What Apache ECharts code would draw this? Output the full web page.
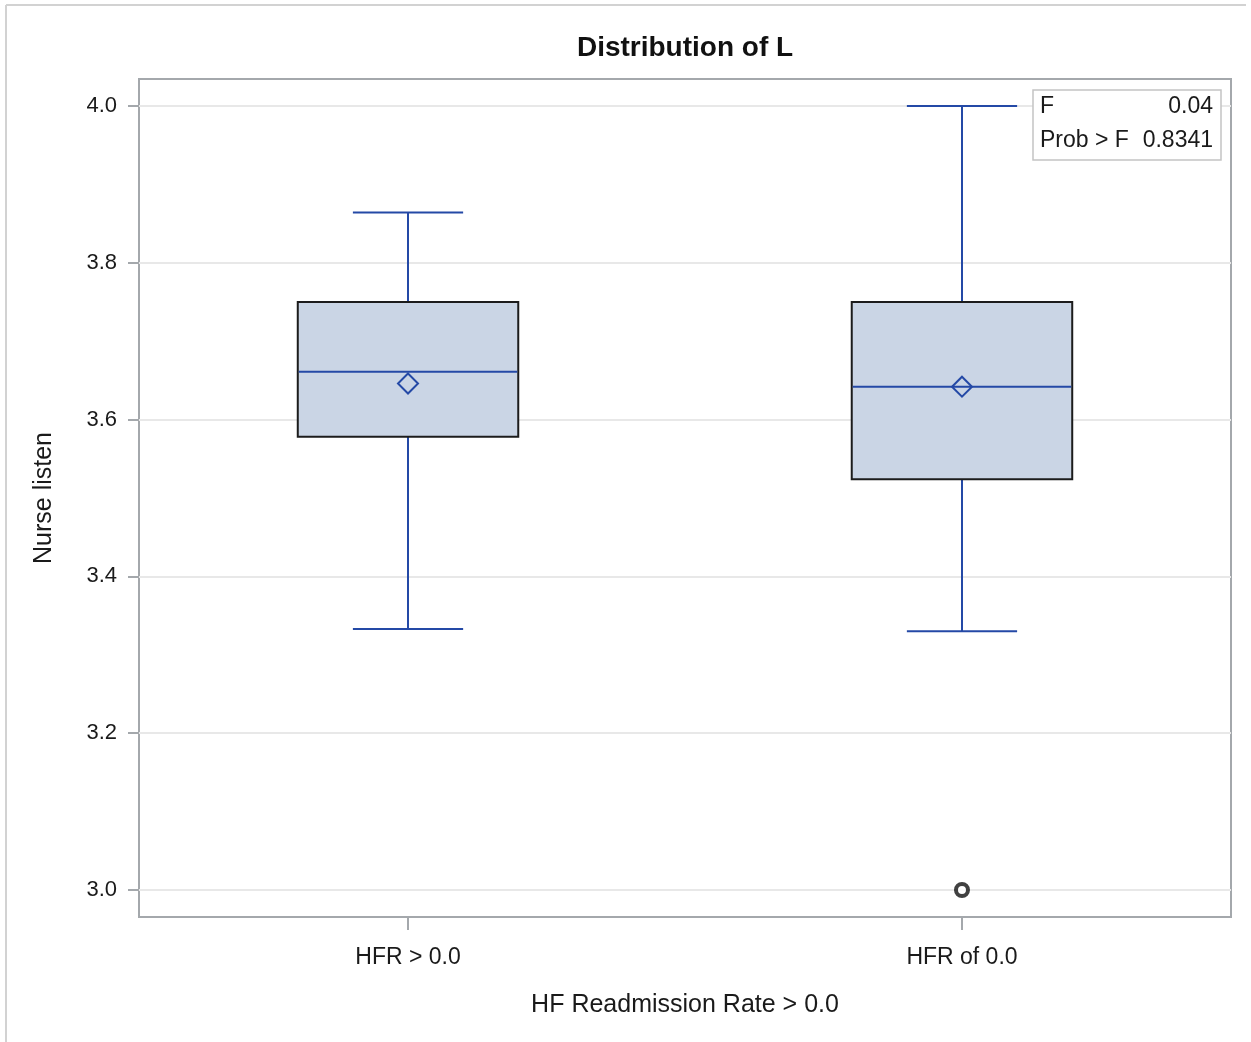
<!DOCTYPE html>
<html>
<head>
<meta charset="utf-8">
<title>Distribution of L</title>
<script src="https://cdn.jsdelivr.net/npm/echarts@6/dist/echarts.min.js"></script>
<style>
  html, body { margin: 0; padding: 0; background: #ffffff; }
  #chart { width: 1251px; height: 1042px; }
</style>
</head>
<body>
<div id="chart"></div>
<script>
// Box-plot summary for each readmission group
const categories = ['HFR > 0.0', 'HFR of 0.0'];
const whiskerLow = [3.333, 3.330];
const q1 = [3.578, 3.524];
const median = [3.661, 3.642];
const q3 = [3.750, 3.750];
const whiskerHigh = [3.864, 4.000];
const means = [3.646, 3.642];
// Outliers as [category index, value]
const outliers = [[1, 3.0]];

// Y tick values
const yTicks = [3.0, 3.2, 3.4, 3.6, 3.8, 4.0];

// ANOVA inset
const statLabels = ['F', 'Prob > F'];
const statValues = ['0.04', '0.8341'];

const FONT = "'Liberation Sans', Arial, sans-serif";
const BLUE = '#2449a6';
const FRAME = '#a4a8ac';

const boxData = categories.map((c, i) => [i, whiskerLow[i], q1[i], median[i], q3[i], whiskerHigh[i], means[i]]);

const chart = echarts.init(document.getElementById('chart'), null, { renderer: 'canvas' });

function renderBox(params, api) {
  const x = api.value(0);
  const pLow = api.coord([x, api.value(1)]);
  const pQ1 = api.coord([x, api.value(2)]);
  const pMed = api.coord([x, api.value(3)]);
  const pQ3 = api.coord([x, api.value(4)]);
  const pHigh = api.coord([x, api.value(5)]);
  const pMean = api.coord([x, api.value(6)]);
  const boxW = api.size([0.398, 0])[0];
  const capW = boxW / 2;
  const cx = pMed[0];
  const lineStyle = { stroke: BLUE, lineWidth: 2, fill: null };
  const d = 10;
  return {
    type: 'group',
    children: [
      { type: 'line', shape: { x1: cx, y1: pLow[1], x2: cx, y2: pQ1[1] }, style: lineStyle },
      { type: 'line', shape: { x1: cx, y1: pQ3[1], x2: cx, y2: pHigh[1] }, style: lineStyle },
      { type: 'line', shape: { x1: cx - capW / 2, y1: pLow[1], x2: cx + capW / 2, y2: pLow[1] }, style: lineStyle },
      { type: 'line', shape: { x1: cx - capW / 2, y1: pHigh[1], x2: cx + capW / 2, y2: pHigh[1] }, style: lineStyle },
      { type: 'rect', shape: { x: cx - boxW / 2, y: pQ3[1], width: boxW, height: pQ1[1] - pQ3[1] },
        style: { fill: '#cad5e5', stroke: '#1c1c1c', lineWidth: 2 } },
      { type: 'line', shape: { x1: cx - boxW / 2 + 1, y1: pMed[1], x2: cx + boxW / 2 - 1, y2: pMed[1] }, style: lineStyle },
      { type: 'polygon', shape: { points: [[cx, pMean[1] - d], [cx + d, pMean[1]], [cx, pMean[1] + d], [cx - d, pMean[1]]] },
        style: { fill: null, stroke: BLUE, lineWidth: 2 } }
    ]
  };
}

const option = {
  backgroundColor: '#ffffff',
  animation: false,
  textStyle: { fontFamily: FONT },
  grid: {
    left: 139, right: 20, top: 79, bottom: 125,
    show: true, borderColor: FRAME, borderWidth: 2, backgroundColor: 'transparent'
  },
  xAxis: {
    type: 'value',
    min: -0.4856, max: 1.4856,
    name: 'HF Readmission Rate > 0.0',
    nameLocation: 'middle',
    nameGap: 76,
    nameTextStyle: { fontSize: 25, color: '#1a1a1a', fontFamily: FONT },
    axisLine: { show: false, onZero: false },
    axisTick: { show: true, customValues: [0, 1], length: 13, lineStyle: { color: FRAME, width: 2 } },
    axisLabel: {
      customValues: [0, 1], margin: 29, fontSize: 23, color: '#1a1a1a', fontFamily: FONT,
      formatter: v => categories[Math.round(v)]
    },
    splitLine: { show: false }
  },
  yAxis: {
    type: 'value',
    min: 2.96556, max: 4.03444,
    name: 'Nurse listen',
    nameLocation: 'middle',
    nameGap: 82,
    nameTextStyle: { fontSize: 25, color: '#1a1a1a', fontFamily: FONT },
    axisLine: { show: false, onZero: false },
    axisTick: { show: true, customValues: yTicks, length: 11, lineStyle: { color: FRAME, width: 2 } },
    axisLabel: {
      customValues: yTicks, margin: 22, fontSize: 22, color: '#1a1a1a', fontFamily: FONT,
      formatter: v => v.toFixed(1)
    },
    splitLine: { show: true, lineStyle: { color: '#e8e8e8', width: 2 } }
  },
  series: [
    {
      type: 'custom',
      name: 'box',
      renderItem: renderBox,
      encode: { x: 0, y: [1, 2, 3, 4, 5, 6] },
      data: boxData,
      z: 2
    },
    {
      type: 'scatter',
      name: 'outliers',
      data: outliers,
      symbol: 'circle',
      symbolSize: 12,
      itemStyle: { color: '#ffffff', borderColor: '#111111', borderWidth: 4 },
      z: 3
    }
  ],
  graphic: [
    // page frame (top and left edges)
    { type: 'line', shape: { x1: 6, y1: 5, x2: 1246, y2: 5 }, style: { stroke: '#d2d2d2', lineWidth: 2 }, z: 10 },
    { type: 'line', shape: { x1: 6, y1: 5, x2: 6, y2: 1042 }, style: { stroke: '#d2d2d2', lineWidth: 2 }, z: 10 },
    // title
    { type: 'text', x: 685, y: 48, z: 10,
      style: { text: 'Distribution of L', font: "bold 28px 'Liberation Sans', Arial, sans-serif",
               fill: '#111111', align: 'center', verticalAlign: 'middle' } },
    // ANOVA inset box
    { type: 'rect', shape: { x: 1033, y: 90, width: 188, height: 70 },
      style: { fill: '#ffffff', stroke: '#c4c4c4', lineWidth: 1.5 }, z: 10 },
    { type: 'text', x: 1040, y: 107, z: 11,
      style: { text: statLabels[0], font: "23px 'Liberation Sans', Arial, sans-serif", fill: '#1a1a1a', align: 'left', verticalAlign: 'middle' } },
    { type: 'text', x: 1213, y: 107, z: 11,
      style: { text: statValues[0], font: "23px 'Liberation Sans', Arial, sans-serif", fill: '#1a1a1a', align: 'right', verticalAlign: 'middle' } },
    { type: 'text', x: 1040, y: 141, z: 11,
      style: { text: statLabels[1], font: "23px 'Liberation Sans', Arial, sans-serif", fill: '#1a1a1a', align: 'left', verticalAlign: 'middle' } },
    { type: 'text', x: 1213, y: 141, z: 11,
      style: { text: statValues[1], font: "23px 'Liberation Sans', Arial, sans-serif", fill: '#1a1a1a', align: 'right', verticalAlign: 'middle' } }
  ]
};

chart.setOption(option);
</script>
</body>
</html>
